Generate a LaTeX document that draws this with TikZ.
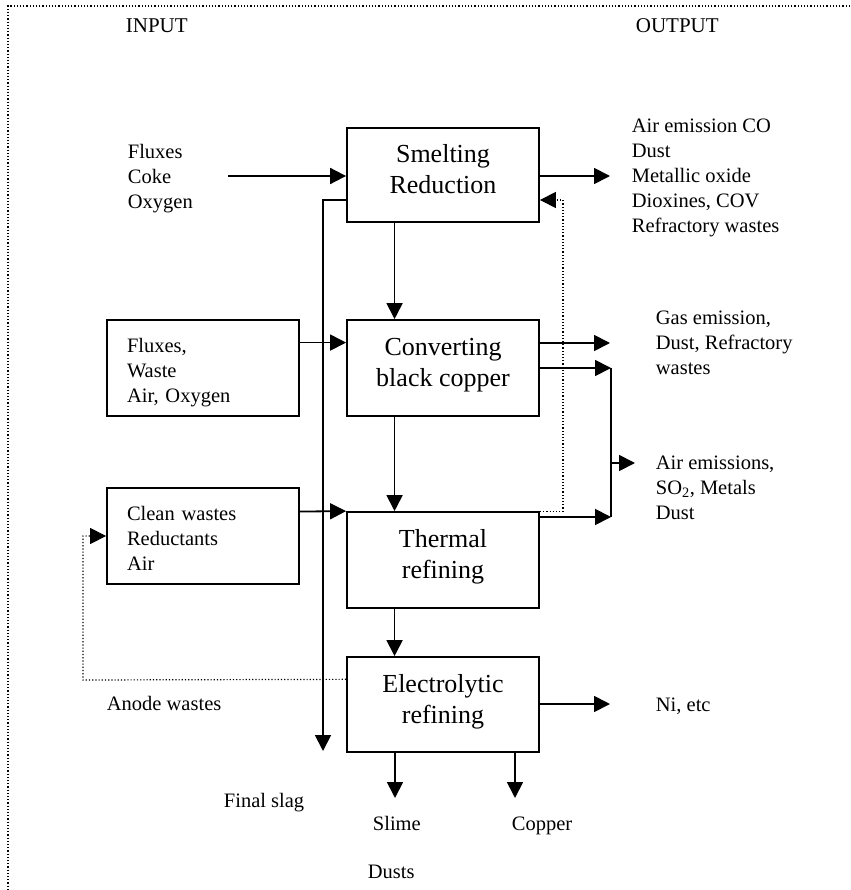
\documentclass[tikz,border=0pt]{standalone}
\usepackage{fontspec}
\setmainfont{Liberation Serif}
\usepackage{tikz}
\usetikzlibrary{arrows.meta}
\usetikzlibrary{calc}

\begin{document}
\begin{tikzpicture}[x=1pt, y=-1pt, line width=1.8pt,
        box_style/.style={rectangle,draw=black,line width=1.8pt,minimum width=192pt,minimum height=96pt,text depth=12pt,align=center,font=\fontsize{26}{31}\selectfont},
        in_box_style/.style={rectangle,draw=black,line width=1.8pt,minimum width=192pt,minimum height=96pt,text width=152pt,inner xsep=20pt,text depth=46pt,align=left,font=\fontsize{20.5}{25}\selectfont},
        label_style/.style={anchor=west,inner sep=0pt,align=left,font=\fontsize{20.5}{25}\selectfont},
        word_style/.style={anchor=base west,inner sep=0pt,font=\fontsize{20.5}{25}\selectfont},
        flow_style/.style={draw=black,line width=1.8pt,-{Triangle[length=16pt,width=16pt]}},
        line_style/.style={draw=black,line width=1.8pt,-},
        feedback_style/.style={draw=black,line width=1.2pt,dotted,-{Triangle[length=16pt,width=16pt]}}]

        \useasboundingbox (0,0) rectangle (850,890);
        \draw [dotted,line width=1.2pt] (850,6) -- (8,6) -- (8,890);

        % process boxes
        \node [box_style,minimum height=94pt](smelt) at (443,175) {Smelting\\Reduction};
        \node [box_style](conv) at (443,368) {Converting\\black copper};
        \node [box_style](therm) at (443,560) {Thermal\\refining};
        \node [box_style,minimum height=95pt](elec) at (443,704.5) {Electrolytic\\refining};
        \node [in_box_style](fluxbox) at (203,368) {Fluxes,\\Waste\\Air, Oxygen};
        \node [in_box_style](cleanbox) at (203,536) {Clean wastes\\Reductants\\Air};

        % texts
        \node [word_style,font=\fontsize{21}{25}\selectfont](input) at (125,33) {INPUT};
        \node [word_style,font=\fontsize{21}{25}\selectfont](output) at (635,33) {OUTPUT};
        \node [label_style](smeltin) at (127,179) {Fluxes\\Coke\\Oxygen};
        \node [label_style](smeltout) at (631,178) {Air emission CO\\Dust\\Metallic oxide\\Dioxines, COV\\Refractory wastes};
        \node [label_style](convout) at (655,343) {Gas emission,\\Dust, Refractory\\wastes};
        \node [label_style](thermout) at (655,488) {Air emissions,\\SO\textsubscript{2}, Metals\\Dust};
        \node [word_style](elecout) at (655,711) {Ni, etc};
        \node [word_style](anode) at (106,710) {Anode wastes};
        \node [word_style](slag) at (223,807) {Final slag};
        \node [word_style](slime) at (372,830) {Slime};
        \node [word_style](copper) at (511,830) {Copper};
        \node [word_style](dusts) at (367,878) {Dusts};

        % free ends
        \coordinate (fcin) at (228,176);
        \coordinate (smeltemit) at (610,176);
        \coordinate (slagtop) at (323,200);
        \coordinate (slagend) at (323,751);
        \coordinate (convemit) at (610,343);
        \coordinate (collect) at (611,368);
        \coordinate (collectbot) at (611,517);
        \coordinate (airemit) at (635,463);
        \coordinate (fbx) at (563,200);
        \coordinate (elecemit) at (610,704);
        \coordinate (anodex) at (83,680);
        \coordinate (slimeend) at (395,798);
        \coordinate (copperend) at (515,798);

        \draw [flow_style] (fcin) -- (fcin -| smelt.west);
        \draw [flow_style] (smelt.east |- smeltemit) -- (smeltemit);
        \draw [flow_style] (slagtop -| smelt.west) -- (slagtop) -- (slagend);
        \draw [flow_style] ($(smelt.south west)!.25!(smelt.south east)$) -- ($(conv.north west)!.25!(conv.north east)$);
        \draw [flow_style] ($(fluxbox.north east)!.24!(fluxbox.south east)$) -- ($(conv.north west)!.24!(conv.south west)$);
        \draw [flow_style] (conv.east |- convemit) -- (convemit);
        \draw [flow_style] (conv.east) -- (collect);
        \draw [line_style] (collect) -- (collectbot);
        \draw [flow_style] (therm.east |- collectbot) -- (collectbot);
        \draw [flow_style] (collect |- airemit) -- (airemit);
        \draw [flow_style] ($(conv.south west)!.25!(conv.south east)$) -- ($(therm.north west)!.25!(therm.north east)$);
        \draw [flow_style] ($(cleanbox.north east)!.25!(cleanbox.south east)$) -- (therm.north west);
        \draw [feedback_style] (therm.north east) -| (fbx) -- (fbx -| smelt.east);
        \draw [flow_style] ($(therm.south west)!.25!(therm.south east)$) -- ($(elec.north west)!.25!(elec.north east)$);
        \draw [flow_style] (elec.east |- elecemit) -- (elecemit);
        \draw [flow_style] (slimeend |- elec.south) -- (slimeend);
        \draw [flow_style] (copperend |- elec.south) -- (copperend);
        \draw [feedback_style] ($(elec.north west)!.24!(elec.south west)$) -- (anodex) |- (cleanbox.west);
\end{tikzpicture}
\end{document}
